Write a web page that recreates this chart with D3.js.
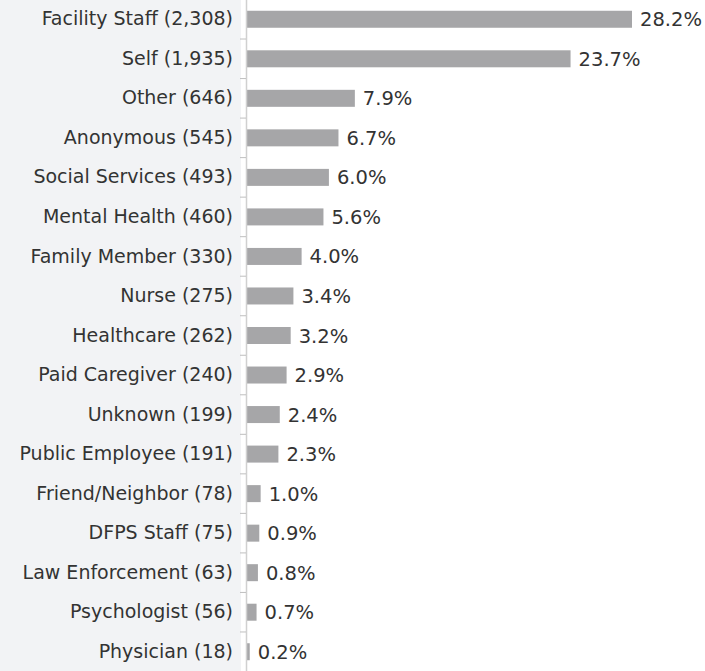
<!DOCTYPE html>
<html>
<head>
<meta charset="utf-8">
<script src="https://cdn.jsdelivr.net/npm/d3@7"></script>
<style>
  body { margin: 0; background: #fff; }
  svg { display: block; }
</style>
</head>
<body>
<div id="chart"></div>
<script>
// Reporter categories, counts and share of reports
const categories = ["Facility Staff", "Self", "Other", "Anonymous", "Social Services",
  "Mental Health", "Family Member", "Nurse", "Healthcare", "Paid Caregiver", "Unknown",
  "Public Employee", "Friend/Neighbor", "DFPS Staff", "Law Enforcement", "Psychologist", "Physician"];
const counts = [2308, 1935, 646, 545, 493, 460, 330, 275, 262, 240, 199, 191, 78, 75, 63, 56, 18];
const percents = [28.2, 23.7, 7.9, 6.7, 6.0, 5.6, 4.0, 3.4, 3.2, 2.9, 2.4, 2.3, 1.0, 0.9, 0.8, 0.7, 0.2];

const width = 705, height = 671;
const axisX = 246;
const font = "'DejaVu Sans', sans-serif";

const svg = d3.select("#chart")
  .append("svg")
  .attr("width", width)
  .attr("height", height);

// light panel behind the labels
svg.append("rect")
  .attr("x", 0).attr("y", 0)
  .attr("width", 241).attr("height", height)
  .attr("fill", "#f2f3f5");

const y = d3.scaleBand()
  .domain(categories)
  .range([-0.5, height + 0.5])
  .paddingInner(0.57)
  .paddingOuter(0.285);

const x = d3.scaleLinear()
  .domain([0, 28.2])
  .range([axisX + 1, 632]);

const fmtCount = d3.format(",");

// bars
svg.selectAll("rect.bar")
  .data(categories)
  .enter()
  .append("rect")
  .attr("class", "bar")
  .attr("x", x(0))
  .attr("y", d => y(d))
  .attr("width", (d, i) => x(percents[i]) - x(0))
  .attr("height", y.bandwidth())
  .attr("fill", "#a6a6a8");

// value labels
svg.selectAll("text.val")
  .data(categories)
  .enter()
  .append("text")
  .attr("class", "val")
  .attr("x", (d, i) => x(percents[i]) + 8)
  .attr("y", d => y(d) + y.bandwidth() / 2)
  .attr("dy", "0.36em")
  .attr("font-family", font)
  .attr("font-size", 19.5)
  .attr("fill", "#333")
  .text((d, i) => percents[i].toFixed(1) + "%");

// category axis
const axis = d3.axisLeft(y)
  .tickSize(0)
  .tickPadding(13)
  .tickFormat((d, i) => `${d} (${fmtCount(counts[i])})`);

const gAxis = svg.append("g")
  .attr("transform", `translate(${axisX},0)`)
  .call(axis);

gAxis.select(".domain").attr("stroke", "#d0d0d0").attr("stroke-width", 1.5);
gAxis.selectAll("text")
  .attr("font-family", font)
  .attr("font-size", 19)
  .attr("fill", "#333");

// tick marks between categories
const step = y.step();
const boundaries = categories.slice(1).map(d => y(d) - y.paddingInner() * step / 2);
gAxis.selectAll("line.sep")
  .data(boundaries)
  .enter()
  .append("line")
  .attr("class", "sep")
  .attr("x1", -6).attr("x2", 0)
  .attr("y1", d => d).attr("y2", d => d)
  .attr("stroke", "#bfbfbf");
</script>
</body>
</html>
